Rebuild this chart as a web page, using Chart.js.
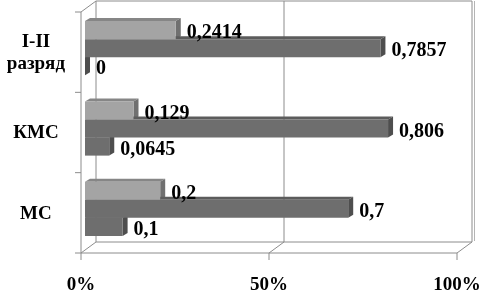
<!DOCTYPE html>
<html>
<head>
<meta charset="utf-8">
<script src="https://cdn.jsdelivr.net/npm/chart.js@4/dist/chart.umd.min.js"></script>
<style>
  html, body { margin: 0; padding: 0; background: #fff; }
  #wrap { width: 482px; height: 292px; }
</style>
</head>
<body>
<div id="wrap"><canvas id="barChart"></canvas></div>
<script>
// Categories (top to bottom) and series values
const categorias = [['I-II', 'разряд'], 'КМС', 'МС'];
const serieClara = [0.2414, 0.129, 0.2];
const serieOscura = [0.7857, 0.806, 0.7];
const serieInferior = [0, 0.0645, 0.1];
const ticksX = [0, 0.5, 1];

const fuente = '"Liberation Serif", "Times New Roman", serif';
const colorLinea = '#8c8c8c';

// Colores de las caras de cada serie: frente, arriba, lado
const caras = [
  { front: '#a4a4a4', top: '#868686', side: '#707070' },
  { front: '#6e6e6e', top: '#5c5c5c', side: '#4e4e4e' },
  { front: '#6e6e6e', top: '#5c5c5c', side: '#4e4e4e' }
];

const profBarra = { dx: 5, dy: 3 };   // profundidad 3D de las barras
const frente = { dx: -4, dy: 4 };     // plano frontal del suelo/pared
const fondo = { dx: 11, dy: -7 };     // plano de la pared del fondo

function linea(ctx, x1, y1, x2, y2) {
  ctx.beginPath();
  ctx.moveTo(x1, y1);
  ctx.lineTo(x2, y2);
  ctx.stroke();
}

function poligono(ctx, pts, color) {
  ctx.beginPath();
  ctx.moveTo(pts[0][0], pts[0][1]);
  for (let i = 1; i < pts.length; i++) ctx.lineTo(pts[i][0], pts[i][1]);
  ctx.closePath();
  ctx.fillStyle = color;
  ctx.fill();
}

// Paredes, suelo y caras 3D de las barras
const plugin3D = {
  id: 'plugin3D',
  beforeDatasetsDraw(chart) {
    const ctx = chart.ctx;
    const area = chart.chartArea;
    const xs = chart.scales.x;
    ctx.save();
    ctx.strokeStyle = colorLinea;
    ctx.lineWidth = 1;

    const fTop = area.top + frente.dy, fBot = area.bottom + frente.dy;
    const bTop = area.top + fondo.dy, bBot = area.bottom + fondo.dy;
    const fx = v => xs.getPixelForValue(v) + frente.dx;
    const bx = v => xs.getPixelForValue(v) + fondo.dx;

    // pared izquierda
    linea(ctx, fx(0), fTop, fx(0), fBot);
    linea(ctx, bx(0), bTop, bx(0), bBot);
    linea(ctx, fx(0), fTop, bx(0), bTop);
    // marcas de categorías en la pared izquierda
    for (let i = 0; i <= categorias.length; i++) {
      const y = area.top + (area.bottom - area.top) * i / categorias.length + frente.dy;
      linea(ctx, fx(0) - 6, y, fx(0), y);
    }
    // borde superior de la pared del fondo
    linea(ctx, bx(0), bTop, bx(1), bTop);
    // suelo
    linea(ctx, fx(0), fBot, fx(1), fBot);
    linea(ctx, bx(0), bBot, bx(1), bBot);
    ticksX.forEach(v => {
      linea(ctx, fx(v), fBot, bx(v), bBot);
      linea(ctx, fx(v), fBot, fx(v), fBot + 7);
      if (v > 0) linea(ctx, bx(v), bTop, bx(v), bBot);
    });
    ctx.strokeStyle = '#b4b4b4';
    linea(ctx, bx(1) + 2.5, bTop, bx(1) + 2.5, bBot - 1);

    // caras superior y lateral de las barras
    chart.data.datasets.forEach((ds, di) => {
      const meta = chart.getDatasetMeta(di);
      meta.data.forEach(bar => {
        const p = bar.getProps(['x', 'y', 'base', 'height'], true);
        const top = p.y - p.height / 2, bot = p.y + p.height / 2;
        const { dx, dy } = profBarra;
        poligono(ctx, [[p.base, top], [p.x, top], [p.x + dx, top - dy], [p.base + dx, top - dy]], caras[di].top);
        poligono(ctx, [[p.x, top], [p.x + dx, top - dy], [p.x + dx, bot - dy], [p.x, bot]], caras[di].side);
      });
    });
    ctx.restore();
  },
  afterDatasetsDraw(chart) {
    // etiquetas de valores
    const ctx = chart.ctx;
    ctx.save();
    ctx.font = 'bold 20px ' + fuente;
    ctx.fillStyle = '#000';
    ctx.textAlign = 'left';
    ctx.textBaseline = 'middle';
    chart.data.datasets.forEach((ds, di) => {
      const meta = chart.getDatasetMeta(di);
      meta.data.forEach((bar, i) => {
        const p = bar.getProps(['x', 'y'], true);
        const texto = String(ds.data[i]).replace('.', ',');
        ctx.fillText(texto, p.x + 11, p.y + 3);
      });
    });
    ctx.restore();
  }
};

const ctx = document.getElementById('barChart').getContext('2d');
new Chart(ctx, {
  type: 'bar',
  data: {
    labels: categorias,
    datasets: [
      { data: serieClara, backgroundColor: caras[0].front },
      { data: serieOscura, backgroundColor: caras[1].front },
      { data: serieInferior, backgroundColor: caras[2].front }
    ]
  },
  options: {
    indexAxis: 'y',
    responsive: true,
    maintainAspectRatio: false,
    animation: false,
    categoryPercentage: 0.675,
    barPercentage: 1,
    layout: { padding: { top: 8, right: 21, bottom: 0, left: 0 } },
    plugins: {
      legend: { display: false },
      tooltip: { enabled: false }
    },
    scales: {
      x: {
        min: 0,
        max: 1,
        grid: { display: false, drawTicks: false },
        border: { display: false },
        ticks: {
          stepSize: 0.5,
          padding: 25,
          labelOffset: -4,
          color: '#000',
          font: { family: fuente, size: 19, weight: 'bold' },
          maxRotation: 0,
          callback: v => Math.round(v * 100) + '%'
        },
        afterFit(scale) {
          scale.height = 43;
          scale.paddingLeft = 0;
          scale.paddingRight = 0;
        }
      },
      y: {
        grid: { display: false, drawTicks: false },
        border: { display: false },
        ticks: {
          padding: 20,
          labelOffset: 5,
          crossAlign: 'center',
          color: '#000',
          font: { family: fuente, size: 19, weight: 'bold' }
        },
        afterFit(scale) {
          scale.width = 85;
          scale.paddingTop = 0;
          scale.paddingBottom = 0;
        }
      }
    }
  },
  plugins: [plugin3D]
});
</script>
</body>
</html>
